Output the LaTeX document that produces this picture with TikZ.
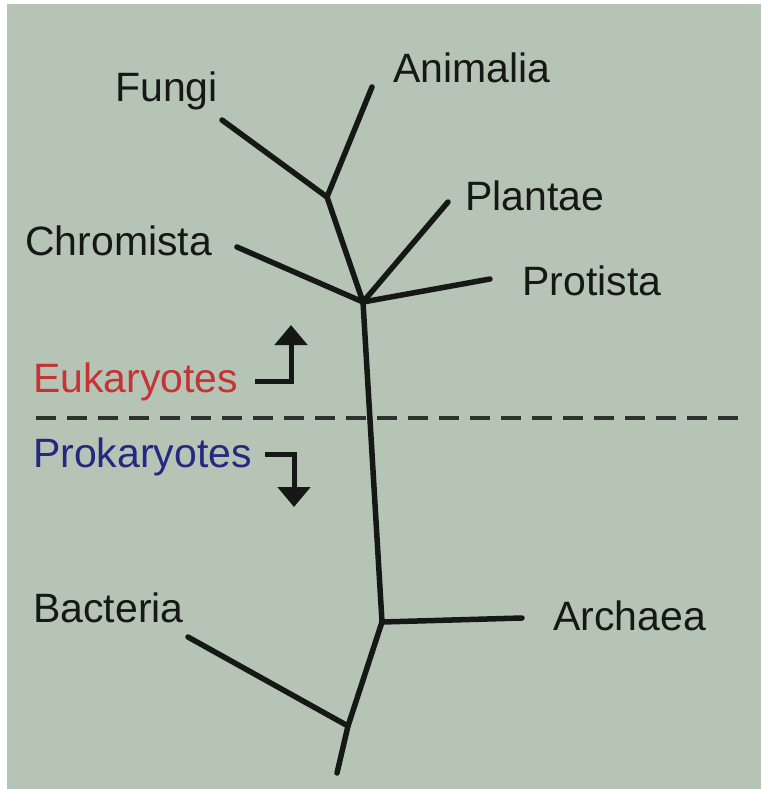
\documentclass[tikz,border=0pt]{standalone}
\usepackage{fontspec}
\setmainfont{Liberation Sans}
\usetikzlibrary{arrows.meta}
\definecolor{bg}{RGB}{182,196,182}
\definecolor{ink}{RGB}{22,24,22}
\definecolor{eukred}{RGB}{196,52,52}
\definecolor{problue}{RGB}{38,40,128}
\tikzset{
  lbl/.style={anchor=base west, inner sep=0pt, text=ink, font=\fontsize{41}{49}\selectfont},
  branch/.style={draw=ink, line width=5.5pt, line cap=round, line join=round},
  divider/.style={draw=ink!85!bg, line width=4pt, dash pattern=on 20pt off 11pt},
  dirarrow/.style={draw=ink, line width=5pt, -{Triangle[width=32pt,length=20pt]}}
}
\begin{document}
\begin{tikzpicture}[x=1pt,y=-1pt]
\useasboundingbox (0,0) rectangle (761,789);
\fill[white] (0,0) rectangle (761,789);
\fill[bg] (7,4) rectangle (761,789);
% labels
\node[lbl] (fungi) at (115,102) {Fungi};
\node[lbl] (animalia) at (393,83) {Animalia};
\node[lbl] (plantae) at (465,210) {Plantae};
\node[lbl] (chromista) at (25,255) {Chromista};
\node[lbl] (protista) at (522,295) {Protista};
\node[lbl, text=eukred] (euk) at (33,392) {Eukaryotes};
\node[lbl, text=problue] (prok) at (33,467) {Prokaryotes};
\node[lbl] (bacteria) at (33,622) {Bacteria};
\node[lbl] (archaea) at (553,630) {Archaea};
% tree coordinates
\coordinate (root) at (337,773);
\coordinate (jb) at (348,726);
\coordinate (ja) at (382,622);
\coordinate (je) at (363,302);
\coordinate (jf) at (327,197);
\coordinate (efungi) at (222,120);
\coordinate (eanim) at (372,87);
\coordinate (eplant) at (448,202);
\coordinate (eprot) at (490,279);
\coordinate (echrom) at (237,247);
\coordinate (earch) at (522,618);
\coordinate (ebact) at (188,637);
% tree
\draw[branch] (root) -- (jb) -- (ja) -- (je) -- (jf) -- (efungi);
\draw[branch] (jf) -- (eanim);
\draw[branch] (je) -- (eplant);
\draw[branch] (je) -- (eprot);
\draw[branch] (je) -- (echrom);
\draw[branch] (ja) -- (earch);
\draw[branch] (jb) -- (ebact);
% divider
\coordinate (dl) at (36,418);
\coordinate (dr) at (742,418);
\draw[divider] (dl) -- (dr);
% direction arrows
\coordinate (ea0) at (255,381);
\coordinate (ea1) at (291,381);
\coordinate (ea2) at (291,325);
\draw[dirarrow] (ea0) -- (ea1) -- (ea2);
\coordinate (pa0) at (265,454);
\coordinate (pa1) at (294,454);
\coordinate (pa2) at (294,507);
\draw[dirarrow] (pa0) -- (pa1) -- (pa2);
\end{tikzpicture}
\end{document}
